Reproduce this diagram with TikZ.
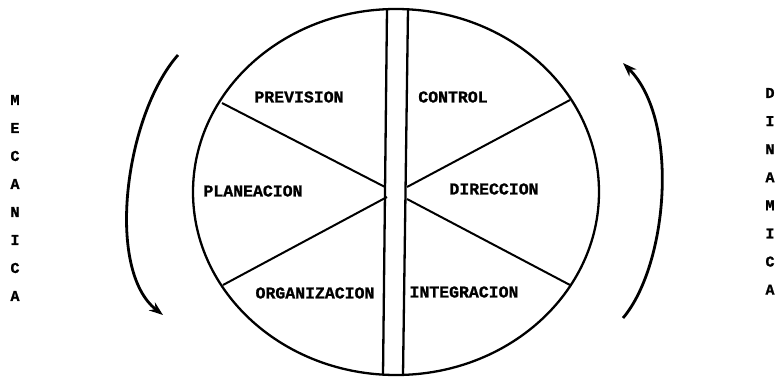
\documentclass[tikz,border=0pt]{standalone}
\usepackage{fontspec}
\newfontfamily\lblfont{Liberation Mono}[BoldFeatures={FakeBold=1.2}]
\usetikzlibrary{arrows.meta}
\begin{document}
\begin{tikzpicture}[x=1pt,y=-1pt,
  lbl/.style={font=\lblfont\bfseries\fontsize{16.5}{18}\selectfont, inner sep=0pt},
  vlet/.style={font=\lblfont\bfseries\fontsize{15}{17}\selectfont, inner sep=0pt},
  rim/.style={line width=2.3pt},
  spoke/.style={line width=2pt},
  turn/.style={line width=2.8pt, -{Stealth[length=14pt,width=10pt]}}]
\useasboundingbox (0,0) rectangle (778,378);
\draw[rim] (396,192) ellipse [x radius=203, y radius=183];
% central bar
\coordinate (bl1) at (387,9); \coordinate (bl2) at (383,375);
\coordinate (br1) at (408,9); \coordinate (br2) at (403,375);
\draw[rim] (bl1) -- (bl2);
\draw[rim] (br1) -- (br2);
% spokes
\coordinate (lu) at (222,103); \coordinate (lc1) at (385,187);
\coordinate (ll) at (223,285); \coordinate (lc2) at (387,197);
\coordinate (ru) at (570,100); \coordinate (rc1) at (407,187);
\coordinate (rl) at (570,285); \coordinate (rc2) at (407,199);
\draw[spoke] (lu) -- (lc1);
\draw[spoke] (ll) -- (lc2);
\draw[spoke] (ru) -- (rc1);
\draw[spoke] (rl) -- (rc2);
% labels
\node[lbl] (prev) at (299,97) {PREVISION};
\node[lbl] (ctrl) at (453,97) {CONTROL};
\node[lbl] (plan) at (253,191) {PLANEACION};
\node[lbl] (dir) at (494,189) {DIRECCION};
\node[lbl] (org) at (315,293) {ORGANIZACION};
\node[lbl] (integ) at (464,292) {INTEGRACION};
% rotation arrows
\coordinate (a1) at (178,55); \coordinate (a2) at (163,315);
\coordinate (b1) at (623,318); \coordinate (b2) at (623,63);
\draw[turn] (a1) .. controls (125,115) and (105,270) .. (a2);
\draw[turn] (b1) .. controls (668,265) and (680,120) .. (b2);
% vertical words
\foreach \c [count=\i] in {M,E,C,A,N,I,C,A}
  \node[vlet] (m\i) at (15,{100+28*(\i-1)}) {\c};
\foreach \c [count=\i] in {D,I,N,A,M,I,C,A}
  \node[vlet] (d\i) at (770,{93+28.1*(\i-1)}) {\c};
\end{tikzpicture}
\end{document}
